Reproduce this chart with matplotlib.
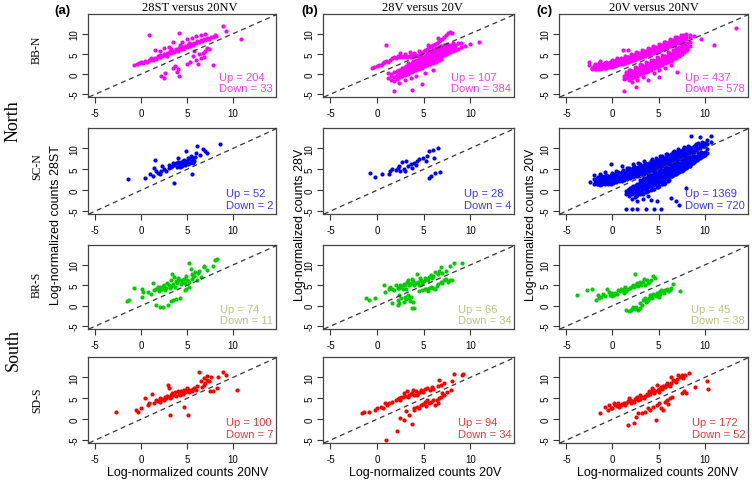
import matplotlib
matplotlib.use("Agg")
import matplotlib.pyplot as plt

# ---------------- data ----------------
col_titles = ["28ST versus 20NV", "28V versus 20V", "20V versus 20NV"]
col_tags = ["(a)", "(b)", "(c)"]
col_ylabels = ["Log-normalized counts 28ST", "Log-normalized counts 28V", "Log-normalized counts 20V"]
col_xlabels = ["Log-normalized counts 20NV", "Log-normalized counts 20V", "Log-normalized counts 20NV"]
row_names = ["BB-N", "SC-N", "BR-S", "SD-S"]
region_names = ["North", "South"]
tick_values = [-5, 0, 5, 10]

up_counts = [[204, 107, 437], [52, 28, 1369], [74, 66, 45], [100, 94, 172]]
down_counts = [[33, 384, 578], [2, 4, 720], [11, 34, 38], [7, 34, 52]]

# Each panel: list of (x, y) or (x, [y, y, ...]) columns
bbn_28st = [(-0.8, 2.3), (-0.5, 2.6), (-0.2, 2.8), (0, 3.1), (0.2, 2.7), (0.4, 3.3), (0.6, 3.0), (0.8, 3.6),
            (1.0, 3.4), (1.1, 3.9), (1.3, 3.6), (1.5, 4.1), (1.6, 3.8), (1.8, 4.4), (2.0, 4.2), (2.1, 4.8),
            (2.3, 4.5), (2.5, 5.0), (2.6, 4.7), (2.8, 5.3), (3.0, 5.1), (3.1, 5.6), (3.3, 5.3), (3.5, 5.8),
            (3.6, 5.5), (3.8, 6.1), (4.0, 5.8), (4.1, 6.4), (4.3, 6.1), (4.5, 6.6), (4.6, 6.3), (4.8, 6.9),
            (5.0, 6.7), (5.1, 7.2), (5.3, 6.9), (5.5, 7.5), (5.6, 7.2), (5.8, 7.8), (6.0, 7.6), (6.1, 8.1),
            (6.3, 7.9), (6.5, 8.4), (6.6, 8.1), (6.8, 8.7), (7.0, 8.5), (7.2, 9.0), (7.4, 8.8), (7.6, 9.3),
            (7.8, 9.1), (8.0, 9.6), (8.2, 9.4), (0.9, 9.8), (1.5, 6.0), (2.0, 5.6), (2.5, 6.4), (3.0, 6.7),
            (3.5, 7.9), (4.1, 10.2), (4.5, 8.0), (5.0, 8.6), (5.5, 9.0), (6.0, 9.4), (6.5, 9.8), (7.0, 10.0),
            (8.9, 11.9), (9.2, 10.8), (10.9, 8.8), (3.2, 6.2), (4.2, 7.2), (5.2, 7.8), (2.8, 4.6),
            (5.3, 3.0), (5.6, 4.4), (6.0, 3.5), (6.3, 5.0), (6.7, 5.3), (7.0, 5.8), (7.4, 6.2), (6.2, 2.4),
            (5.0, 2.5), (7.8, 2.3), (6.8, 4.2), (7.2, 6.5), (3.5, 1.5), (3.7, 2.1), (3.9, 0.6), (4.1, -0.6),
            (2.2, -0.6), (2.5, -0.9), (2.6, 0.3), (4.0, 1.2), (5.8, 5.6), (6.5, 3.9)]

bbn_28v = [(-0.5, 1.5), (-0.3, 1.8), (0, 1.9), (0.2, 2.3), (0.4, 2.2), (0.6, 2.7), (0.8, 2.9), (1.0, 3.2),
           (1.0, 7.2), (1.2, 3.1), (1.4, 3.6), (1.6, 3.9), (1.8, 4.3), (2.0, 4.0), (2.2, 4.5), (2.4, 4.2),
           (2.6, 4.6), (2.8, 4.3), (3.0, 4.5), (3.2, 4.2), (3.4, 4.6), (3.6, 4.3), (3.8, 4.7), (4.0, 4.4),
           (4.2, 4.8), (4.4, 4.5), (4.6, 5.0), (4.8, 5.3), (5.0, 5.6), (5.2, 5.9), (5.4, 6.2), (5.6, 6.6),
           (5.8, 6.9), (6.0, 7.1), (6.2, 7.5), (6.4, 7.8), (6.6, 8.2), (6.8, 8.5), (7.0, 8.8), (7.2, 9.2),
           (7.4, 9.6), (7.6, 10.1), (7.8, 10.5), (8.0, 10.2), (2.5, 5.2), (3.5, 5.4), (4.5, 5.8), (5.5, 7.2),
           (6.5, 9.0), (3.0, 5.0), (4.0, 5.3),
           (1.2, [-0.9, 0.3]), (1.5, [-1.5, 0.0, -0.5]), (1.8, [-0.7, 0.5, -4.1, -1.8]),
           (2.1, [-0.3, 0.8, -1.2]), (2.4, [0.0, 1.1, -0.8, -2.2]), (2.7, [0.3, 1.5, -0.6, 0.9]),
           (3.0, [0.6, 1.8, -0.2, 1.2, -1.5]), (3.3, [0.9, 2.1, 0.1, 1.5, 2.7]),
           (3.6, [1.2, 2.4, 0.4, 1.8, -1.0]), (3.8, [-4.0]), (3.9, [1.5, 2.8, 0.7, 2.1, 3.3]),
           (4.2, [1.8, 3.1, 1.0, 2.4, 3.6, -0.5]), (4.5, [2.1, 3.4, 1.3, 2.7, 4.0]),
           (4.8, [2.4, 3.7, 1.6, 3.0, 4.3, -2.5]), (5.1, [2.7, 4.0, 1.9, 3.3, 4.6, 0.2]),
           (5.4, [3.0, 4.3, 2.2, 3.6, 4.9, 5.3]), (5.7, [3.3, 4.6, 2.5, 3.9, 5.2, 5.8]),
           (6.0, [3.6, 4.9, 2.8, 4.2, 5.5, 6.2, 1.0]), (6.3, [3.9, 5.2, 3.1, 4.5, 5.8, 6.5]),
           (6.6, [4.2, 5.5, 3.4, 4.8, 6.1, 6.8]), (6.9, [4.5, 5.8, 3.7, 5.1, 6.4, 7.0]),
           (7.2, [4.8, 6.1, 5.4, 6.7, 7.2]), (7.5, [5.1, 6.4, 5.7, 7.0, 7.5]), (7.8, [5.4, 6.7, 6.0, 7.3]),
           (8.1, [5.7, 7.0, 6.3, 7.6]), (8.4, [6.0, 7.3, 6.6]), (8.7, [6.3, 7.6]), (9.0, [6.6, 7.8]),
           (9.4, [7.0]), (10.0, [7.5]), (10.9, [8.0]),
           (2.25, [-0.2, 0.5]), (2.55, [0.2, 0.9, -0.3]), (2.85, [0.5, 1.2]), (3.15, [0.8, 1.5, 2.0]),
           (3.45, [1.1, 1.8]), (3.75, [1.4, 2.1, 2.7]), (4.05, [1.7, 2.4]), (4.35, [2.0, 2.7, 3.3]),
           (4.65, [2.3, 3.0]), (4.95, [2.6, 3.3, 3.9]), (5.25, [2.9, 3.6]), (5.55, [3.2, 3.9, 4.5]),
           (5.85, [3.5, 4.2]), (6.15, [3.8, 4.5, 5.1]), (6.45, [4.1, 4.8]), (6.75, [4.4, 5.1, 5.7]),
           (7.05, [4.7, 5.4]), (7.35, [5.0, 5.7, 6.3]), (7.65, [5.3, 6.0]), (7.95, [5.6, 6.3])]

bbn_20v = [(-2.5, [2.2, 3.1]), (-2.2, [1.3, 1.6]), (-1.9, [1.2, 1.8, 2.4]), (-1.6, [1.2, 1.7, 2.3]),
           (-1.3, [1.3, 1.8, 2.4, 3.2]), (-1.0, [1.4, 1.9, 2.5]), (-0.7, [1.5, 2.0, 2.6, 3.1]),
           (-0.4, [1.7, 2.2, 2.8]), (-0.1, [1.8, 2.4, 3.0, 3.5]), (0.2, [2.0, 2.6, 3.2]),
           (0.5, [2.2, 2.8, 3.4, 4.0]), (0.8, [2.4, 3.0, 3.6]), (1.1, [2.6, 3.2, 3.8, 6.0]),
           (1.4, [2.8, 3.4, 4.0, 4.6]), (1.7, [3.0, 3.6, 4.2, 6.0]), (2.0, [3.2, 3.8, 4.4, 5.0]),
           (2.3, [3.5, 4.1, 4.7]), (2.6, [3.7, 4.3, 4.9, 5.5]), (2.9, [3.9, 4.5, 5.1]),
           (3.2, [4.2, 4.8, 5.4, 6.0]), (3.5, [4.4, 5.0, 5.6]), (3.8, [4.7, 5.3, 5.9, 6.5]),
           (4.1, [4.9, 5.5, 6.1]), (4.4, [5.2, 5.8, 6.4, 7.0]), (4.7, [5.4, 6.0, 6.6]),
           (5.0, [5.7, 6.3, 6.9, 7.5]), (5.3, [6.0, 6.6, 7.2]), (5.6, [6.3, 6.9, 7.5, 8.0]),
           (5.9, [6.6, 7.2, 7.8]), (6.2, [6.9, 7.5, 8.1, 8.6]), (6.5, [7.2, 7.8, 8.4]),
           (6.8, [7.5, 8.1, 8.7, 9.2]), (7.1, [7.8, 8.4, 9.0]), (7.4, [8.1, 8.7, 9.3, 9.8]),
           (7.7, [8.4, 9.0, 9.6]), (8.0, [8.7, 9.3, 10.0]), (8.4, [9.1, 9.7]), (8.8, [9.4]),
           (9.6, [8.8]), (11.0, [7.2]), (13.4, [11.4]),
           (-2.05, [1.4, 2.0]), (-1.75, [1.3, 1.9]), (-1.45, [1.4, 2.0, 2.7]), (-1.15, [1.5, 2.1]),
           (-0.85, [1.6, 2.2, 2.8]), (-0.55, [1.8, 2.4]), (-0.25, [1.9, 2.5, 3.1]), (0.05, [2.1, 2.7]),
           (0.35, [2.3, 2.9, 3.5]), (0.65, [2.5, 3.1]), (0.95, [2.7, 3.3, 3.9]), (1.25, [2.9, 3.5]),
           (1.55, [3.1, 3.7, 4.3]), (1.85, [3.3, 3.9]), (2.15, [3.6, 4.2, 4.8]), (2.45, [3.8, 4.4]),
           (2.75, [4.0, 4.6, 5.2]), (3.05, [4.3, 4.9]), (3.35, [4.5, 5.1, 5.7]), (3.65, [4.8, 5.4]),
           (3.95, [5.0, 5.6, 6.2]), (4.25, [5.3, 5.9]), (4.55, [5.5, 6.1, 6.7]), (4.85, [5.8, 6.4]),
           (5.15, [6.1, 6.7, 7.3]), (5.45, [6.4, 7.0]), (5.75, [6.7, 7.3, 7.9]), (6.05, [7.0, 7.6]),
           (6.35, [7.3, 7.9, 8.5]), (6.65, [7.6, 8.2]), (6.95, [7.9, 8.5, 9.1]), (7.25, [8.2, 8.8]),
           (7.55, [8.5, 9.1]), (7.85, [8.8, 9.4]),
           (1.2, [-1.3, -0.4]), (1.3, [-4.3]), (1.5, [-1.0, -0.1, 0.6]), (1.8, [-1.4, -0.6, 0.3, 1.0]),
           (2.1, [-1.0, -0.1, 0.7, -2.0]), (2.4, [-0.7, 0.2, 1.1, 1.7]), (2.5, [-3.2]),
           (2.7, [-0.4, 0.5, 1.4, -1.4]), (3.0, [-0.1, 0.8, 1.7, 2.4]), (3.3, [0.2, 1.1, 2.0, -0.8]),
           (3.6, [0.5, 1.4, 2.3, 3.0]), (3.9, [0.8, 1.7, 2.6, -1.5]), (4.2, [1.1, 2.0, 2.9, 3.6]),
           (4.5, [1.4, 2.3, 3.2, 0.3]), (4.8, [1.7, 2.6, 3.5, 4.2]), (5.0, [-0.7]),
           (5.1, [2.0, 2.9, 3.8, 1.0]), (5.4, [2.3, 3.2, 4.1, 4.8]), (5.7, [2.7, 3.5, 4.4, 1.6]),
           (6.0, [3.0, 3.9, 4.7, 5.4]), (6.3, [3.3, 4.2, 5.0, 2.2]), (6.6, [3.7, 4.5, 5.3, 6.0]),
           (6.9, [4.1, 4.9, 5.7, 6.4]), (7.0, [0.6]), (7.2, [4.5, 5.3, 6.1, 6.8]),
           (7.5, [5.0, 5.8, 6.6, 7.3]), (7.8, [5.5, 6.3, 7.1, 7.8]), (8.1, [6.0, 6.8, 7.6]),
           (8.4, [7.0, 8.0]),
           (1.65, [-0.8, 0.1]), (1.95, [-0.6, 0.2, 0.9]), (2.25, [-0.4, 0.5]), (2.55, [-0.1, 0.8, 1.5]),
           (2.85, [0.2, 1.1]), (3.15, [0.5, 1.4, 2.2]), (3.45, [0.8, 1.7]), (3.75, [1.1, 2.0, 2.8]),
           (4.05, [1.4, 2.3]), (4.35, [1.7, 2.6, 3.4]), (4.65, [2.0, 2.9]), (4.95, [2.3, 3.2, 4.0]),
           (5.25, [2.6, 3.5]), (5.55, [2.9, 3.8, 4.6]), (5.85, [3.3, 4.1]), (6.15, [3.6, 4.5, 5.2]),
           (6.45, [4.0, 4.8]), (6.75, [4.4, 5.2, 5.9]), (7.05, [4.8, 5.6]), (7.35, [5.2, 6.0, 6.7]),
           (7.65, [5.7, 6.5]), (7.95, [6.2, 7.0])]

scn_28st = [(-1.4, 2.6), (0.4, 3.0), (1.3, 3.4), (1.4, 5.2), (1.5, 7.3), (1.6, 4.6), (2.0, 3.8), (2.3, 5.8),
            (2.7, 4.6), (3.0, 5.2), (3.4, 5.8), (3.6, 1.8), (3.8, 6.6), (4.0, 7.6), (4.1, 6.2), (4.3, 6.8),
            (4.5, 5.8), (4.7, 7.3), (4.9, 9.4), (4.9, 6.8), (5.1, 6.2), (5.2, 7.4), (5.4, 8.2), (5.5, 3.8),
            (5.6, 6.6), (5.8, 7.0), (6.1, 10.6), (6.0, 9.0), (6.7, 9.8), (7.0, 9.4), (7.2, 9.0), (8.6, 11.0),
            (3.6, 6.0), (3.9, 5.5), (4.4, 6.5), (4.6, 7.0), (5.0, 7.0), (5.3, 6.5), (4.2, 5.6), (3.2, 5.6),
            (2.5, 5.0), (1.8, 4.2), (5.7, 7.6), (4.8, 6.0), (5.5, 7.0), (3.0, 6.0), (4.0, 6.8), (2.2, 4.6),
            (6.4, 8.5), (5.9, 8.0), (1.0, 3.8), (4.6, 6.2), (5.1, 7.8), (3.5, 6.4)]

scn_28v = [(-0.8, 4.2), (-0.2, 3.2), (0.5, 3.8), (1.3, 3.8), (1.4, 4.6), (1.6, 5.0), (2.2, 5.4), (2.4, 5.8),
           (2.5, 4.6), (2.7, 6.8), (2.9, 5.0), (3.1, 7.0), (3.3, 5.8), (3.6, 6.2), (3.8, 5.4), (4.0, 6.6),
           (4.3, 7.0), (4.5, 7.4), (4.9, 7.8), (5.3, 7.0), (5.4, 8.2), (5.6, 9.4), (6.0, 9.7), (6.5, 10.0),
           (6.1, 7.6), (3.0, 4.6), (4.2, 6.0), (2.0, 4.9),
           (5.6, 3.0), (5.8, 3.4), (6.2, 4.2), (6.8, 4.4)]

scn_20v = [(-2.4, [1.9]), (-2.0, [1.6, 2.6, 3.6]), (-1.7, [1.4, 2.2, 3.0]), (-1.4, [1.3, 2.0, 2.8, 3.8]),
           (-1.1, [1.4, 2.1, 2.9, 3.4]), (-0.8, [1.4, 2.0, 2.7, 3.3, 4.3]), (-0.5, [1.5, 2.1, 2.8, 3.4]),
           (-0.2, [1.6, 2.3, 3.0, 3.6, 6.2]), (0.1, [1.7, 2.4, 3.1, 3.8]), (0.4, [1.9, 2.6, 3.3, 4.0, 4.6]),
           (0.7, [2.1, 2.8, 3.5, 4.2]), (1.0, [2.3, 3.0, 3.7, 4.4, 5.8]), (1.3, [2.5, 3.2, 3.9, 4.6]),
           (1.6, [2.7, 3.4, 4.1, 4.8, 5.4]), (1.9, [2.9, 3.6, 4.3, 5.0]), (2.2, [3.1, 3.8, 4.5, 5.2, 6.3]),
           (2.5, [3.3, 4.0, 4.7, 5.4]), (2.8, [3.5, 4.2, 4.9, 5.6, 6.6]), (3.1, [3.8, 4.5, 5.2, 5.9]),
           (3.4, [4.0, 4.7, 5.4, 6.1, 7.0]), (3.7, [4.2, 4.9, 5.6, 6.3]), (4.0, [4.4, 5.1, 5.8, 6.5]),
           (4.3, [4.7, 5.4, 6.1, 6.8, 7.5]), (4.6, [4.9, 5.6, 6.3, 7.0]), (4.9, [5.2, 5.9, 6.6, 7.3]),
           (5.2, [5.4, 6.1, 6.8, 7.5, 8.2]), (5.5, [5.7, 6.4, 7.1, 7.8]), (5.8, [5.9, 6.6, 7.3, 8.0, 8.7]),
           (6.1, [6.2, 6.9, 7.6, 8.3]), (6.4, [6.5, 7.2, 7.9, 8.6]), (6.7, [6.8, 7.5, 8.2, 8.9, 9.5]),
           (7.0, [7.1, 7.8, 8.5, 9.2]), (7.3, [7.4, 8.1, 8.8, 9.5]), (7.6, [7.7, 8.4, 9.1, 9.8]),
           (7.9, [8.0, 8.7, 9.4, 10.1]), (8.2, [8.4, 9.1, 9.8, 10.5]), (8.5, [8.8, 9.5, 10.2, 13.0]),
           (8.8, [9.2, 9.9, 10.6]), (9.1, [9.6, 10.3, 11.0]), (9.5, [10.0, 10.8, 12.7]),
           (9.9, [10.5, 11.3]), (10.3, [11.0, 12.0]), (10.7, [11.5, 13.0]),
           (-1.85, [1.7, 2.5]), (-1.55, [1.5, 2.3, 3.1]), (-1.25, [1.6, 2.4, 3.2]), (-0.95, [1.7, 2.4, 3.1]),
           (-0.65, [1.7, 2.4, 3.0, 3.7]), (-0.35, [1.8, 2.5, 3.2]), (-0.05, [2.0, 2.7, 3.4, 4.1]),
           (0.25, [2.2, 2.9, 3.6]), (0.55, [2.4, 3.1, 3.8, 4.4]), (0.85, [2.6, 3.3, 4.0]),
           (1.15, [2.8, 3.5, 4.2, 4.9]), (1.45, [3.0, 3.7, 4.4]), (1.75, [3.2, 3.9, 4.6, 5.3]),
           (2.05, [3.4, 4.1, 4.8]), (2.35, [3.6, 4.3, 5.0, 5.7]), (2.65, [3.8, 4.5, 5.2]),
           (2.95, [4.1, 4.8, 5.5, 6.2]), (3.25, [4.3, 5.0, 5.7]), (3.55, [4.5, 5.2, 5.9, 6.6]),
           (3.85, [4.7, 5.4, 6.1]), (4.15, [5.0, 5.7, 6.4, 7.1]), (4.45, [5.2, 5.9, 6.6]),
           (4.75, [5.5, 6.2, 6.9, 7.6]), (5.05, [5.7, 6.4, 7.1]), (5.35, [6.0, 6.7, 7.4, 8.1]),
           (5.65, [6.2, 6.9, 7.6]), (5.95, [6.5, 7.2, 7.9, 8.6]), (6.25, [6.8, 7.5, 8.2]),
           (6.55, [7.1, 7.8, 8.5, 9.2]), (6.85, [7.4, 8.1, 8.8]), (7.15, [7.7, 8.4, 9.1, 9.8]),
           (7.45, [8.0, 8.7, 9.4]), (7.75, [8.3, 9.0, 9.7, 10.4]), (8.05, [8.7, 9.4, 10.1]),
           (8.35, [9.0, 9.7, 10.4]), (8.65, [9.4, 10.1]), (8.95, [9.8, 10.5]), (9.3, [10.2, 11.2]),
           (9.7, [10.7, 11.6]), (10.1, [11.2]),
           (1.5, [-0.2, -1.0, -4.5]), (1.8, [-0.5, 0.3, -1.5]), (2.1, [-0.8, 0.1, 0.8, -2.0, -4.5]),
           (2.4, [-0.6, 0.3, 1.1, -1.6]), (2.7, [-0.4, 0.5, 1.4, -1.2, -4.5, -2.6]),
           (3.0, [-0.1, 0.8, 1.7, -1.0, 2.4]), (3.3, [0.2, 1.1, 2.0, -0.8, 2.7, -2.0]),
           (3.6, [0.5, 1.4, 2.3, -0.5, 3.0, -4.5]), (3.9, [0.8, 1.7, 2.6, -0.2, 3.3, -1.5]),
           (4.2, [1.1, 2.0, 2.9, 0.1, 3.6, -2.3]), (4.5, [1.4, 2.3, 3.2, 0.4, 3.9, -4.5]),
           (4.8, [1.7, 2.6, 3.5, 0.7, 4.2, -2.7]), (5.1, [2.0, 2.9, 3.8, 1.0, 4.5]), (5.3, [-4.5]),
           (5.4, [2.3, 3.2, 4.1, 1.4, 4.8]), (5.7, [2.7, 3.5, 4.4, 1.8, 5.1]),
           (6.0, [3.0, 3.9, 4.7, 2.2, 5.4]), (6.3, [3.3, 4.2, 5.0, 5.7, -1.9]), (6.6, [3.6, 4.5, 5.3, 6.0]),
           (6.9, [3.9, 4.8, 5.6, 6.3, -2.7]), (7.2, [4.3, 5.1, 5.9, 6.6, -3.5]), (7.5, [4.7, 5.5, 6.2, 6.9]),
           (7.8, [5.1, 5.9, 6.6, 7.2]), (8.0, [0.6]), (8.1, [5.5, 6.3, 7.0, 7.6]),
           (8.4, [5.9, 6.7, 7.4, 7.9]), (8.7, [6.4, 7.2, 7.8, 8.3]), (9.0, [6.9, 7.7, 8.3]),
           (9.3, [7.4, 8.2, 8.8]), (9.6, [8.0, 8.7, 9.2]), (10.0, [8.5, 9.2]), (10.3, [9.0, 9.8]),
           (1.65, [-0.6, 0.1]), (1.95, [-0.9, -0.1, 0.6]), (2.25, [-0.7, 0.2, 1.0]),
           (2.55, [-0.5, 0.4, 1.2, -1.4]), (2.85, [-0.2, 0.7, 1.6]), (3.15, [0.1, 1.0, 1.9, -0.6]),
           (3.45, [0.4, 1.3, 2.2, 2.9]), (3.75, [0.7, 1.6, 2.5, -0.3]), (4.05, [1.0, 1.9, 2.8, 3.5]),
           (4.35, [1.3, 2.2, 3.1, 0.3]), (4.65, [1.6, 2.5, 3.4, 4.1]), (4.95, [1.9, 2.8, 3.7, 0.8]),
           (5.25, [2.2, 3.1, 4.0, 4.7]), (5.55, [2.5, 3.4, 4.3, 1.6]), (5.85, [2.9, 3.7, 4.6, 5.3]),
           (6.15, [3.2, 4.1, 4.9, 2.4]), (6.45, [3.5, 4.4, 5.2, 5.9]), (6.75, [3.8, 4.7, 5.5]),
           (7.05, [4.1, 5.0, 5.8, 6.5]), (7.35, [4.5, 5.3, 6.1]), (7.65, [4.9, 5.7, 6.4, 7.0]),
           (7.95, [5.3, 6.1, 6.8]), (8.25, [5.7, 6.5, 7.2, 7.8]), (8.55, [6.2, 7.0, 7.6]),
           (8.85, [6.7, 7.5, 8.1]), (9.15, [7.2, 8.0]), (9.45, [7.7, 8.5]), (9.8, [8.3, 9.0])]

brs_28st = [(-1.5, 1.2), (-1.3, 1.5), (-0.8, 4.4), (0.1, 4.2), (0.1, 2.2), (0.2, 3.4), (0.7, 3.4), (1.1, 3.0),
            (1.3, 5.5), (1.4, 3.8), (1.8, 4.6), (2.0, 4.2), (2.1, 4.6), (2.3, 4.2), (2.5, 5.0), (2.7, 4.3),
            (3.0, 5.1), (3.2, 6.2), (3.4, 7.8), (3.6, 7.0), (3.7, 4.6), (4.1, 6.2), (4.3, 5.4), (4.5, 5.9),
            (4.7, 6.6), (5.2, 10.4), (5.2, 5.8), (5.4, 9.0), (5.5, 6.6), (5.7, 7.2), (5.9, 8.2), (6.1, 6.2),
            (6.3, 8.6), (6.8, 9.4), (6.9, 9.8), (7.8, 9.8), (8.1, 11.2), (8.3, 11.5), (2.8, 5.6), (3.3, 4.8),
            (3.9, 5.6), (4.0, 6.8), (4.8, 5.5), (5.0, 6.2), (1.6, 4.0), (2.6, 3.8), (3.5, 5.3), (4.4, 6.4),
            (5.8, 7.4), (6.5, 7.0), (1.9, 3.6), (4.9, 7.2), (3.1, 4.4), (5.5, 7.8), (6.2, 8.0), (7.2, 8.8),
            (2.4, 4.8), (3.8, 6.0),
            (1.6, 0.2), (2.4, -0.2), (2.9, 0.2), (3.2, 1.2), (3.5, 1.4), (4.2, 1.8), (2.1, -0.3), (3.8, 1.6),
            (4.8, 3.8), (4.9, 4.2), (5.2, 4.6)]

brs_28v = [(-1.2, 1.8), (-0.9, 1.5), (-0.2, 2.0), (0.8, 5.0), (0.9, 3.4), (1.3, 4.2), (1.4, 4.6), (1.8, 3.9),
           (2.0, 5.0), (2.4, 4.3), (2.5, 5.0), (2.9, 5.4), (3.1, 4.2), (3.3, 6.2), (3.4, 5.0), (3.6, 5.6),
           (3.8, 6.6), (4.0, 5.0), (4.3, 7.8), (4.4, 5.8), (4.7, 6.2), (5.3, 6.6), (5.6, 7.0), (5.8, 7.5),
           (6.2, 8.2), (6.9, 9.4), (7.4, 8.6), (8.3, 10.4), (9.1, 10.6), (2.7, 4.6), (3.0, 5.0), (3.5, 5.3),
           (3.9, 6.0), (4.2, 5.5), (4.6, 6.8), (5.0, 6.0), (5.1, 6.9), (5.5, 6.2), (6.0, 7.2), (6.5, 7.8),
           (2.2, 4.4), (1.6, 4.0), (3.2, 5.8), (4.8, 5.6), (5.9, 6.8), (6.6, 8.6), (7.0, 8.0), (7.8, 9.7),
           (2.8, 4.0), (4.5, 5.2),
           (2.2, 1.4), (2.4, 0.6), (2.9, 1.0), (3.3, 2.6), (3.4, 1.8), (3.9, 1.0), (4.0, -0.5), (3.6, 2.2),
           (2.4, 2.6), (3.1, 1.6), (5.1, 4.2), (5.3, 4.0), (5.6, 4.3), (6.0, 4.3), (6.2, 4.2), (6.9, 5.8),
           (7.2, 6.2), (7.6, 5.8), (7.8, 6.2), (8.0, 6.2), (2.2, 0.2), (3.8, -0.6), (1.6, 0.6), (2.6, 1.9),
           (3.5, 1.2), (4.8, 3.9), (5.8, 4.6), (6.5, 5.3), (7.0, 5.5), (5.5, 3.6), (6.4, 4.8), (4.5, 3.5),
           (7.4, 6.6), (3.0, 2.2)]

brs_20v = [(-3.8, 2.6), (-2.8, 3.9), (-2.2, 4.0), (-1.8, 1.4), (-1.5, 1.9), (-1.2, 2.2), (-0.8, 2.4),
           (-0.6, 4.0), (-0.3, 2.7), (-0.1, 3.2), (0.2, 2.6), (0.5, 3.0), (0.8, 3.5), (0.9, 4.2), (1.2, 4.2),
           (1.5, 3.5), (1.7, 4.2), (1.9, 4.3), (2.3, 4.7), (2.4, 7.8), (2.6, 5.0), (3.0, 5.9), (3.3, 5.8),
           (3.5, 5.0), (3.7, 6.2), (4.2, 6.2), (4.4, 7.2), (4.6, 6.8), (-1.0, 2.8), (0.0, 2.4), (1.0, 3.8),
           (2.0, 4.6), (2.8, 4.8), (1.4, 4.6), (3.1, 5.2), (-0.4, 3.3), (0.6, 3.9), (2.2, 5.2), (3.9, 5.6),
           (2.7, 5.5), (1.3, 3.2), (-1.6, 2.6), (0.3, 3.1), (3.4, 6.6), (4.0, 5.9),
           (1.5, -1.0), (1.8, -1.3), (2.1, -0.8), (2.6, -0.2), (2.8, -1.0), (3.0, 0.6), (3.3, 1.4), (3.5, 1.8),
           (3.7, 1.1), (4.0, 1.8), (4.2, 2.2), (4.4, 3.0), (4.6, 2.6), (4.8, 3.2), (5.0, 2.2), (5.1, 3.4),
           (5.3, 3.8), (5.5, 3.5), (5.7, 3.8), (5.9, 4.0), (6.2, 3.8), (6.6, 5.4), (7.3, 3.5), (3.0, -0.6),
           (2.2, -0.2), (3.9, 1.4), (4.3, 2.0), (3.6, 0.9), (4.9, 2.8), (5.6, 3.2), (6.0, 3.6), (2.4, -0.7),
           (3.2, 0.2), (4.1, 2.6), (4.7, 2.4), (5.2, 3.0), (6.4, 4.4), (2.0, -1.1)]

sds_28st = [(-2.7, 1.8), (-0.6, 2.1), (-0.3, 1.8), (0, 2.6), (0.4, 5.0), (0.7, 3.4), (1.2, 6.0), (1.4, 3.8),
            (1.6, 4.6), (2.0, 4.2), (2.3, 4.8), (2.7, 5.0), (2.9, 8.3), (3.0, 7.5), (3.2, 5.4), (3.6, 5.9),
            (4.0, 6.7), (4.1, 6.1), (4.4, 6.3), (4.9, 6.7), (5.0, 7.5), (5.4, 7.1), (5.8, 7.5), (6.1, 7.9),
            (6.3, 11.3), (6.5, 9.1), (6.8, 8.3), (7.2, 10.3), (7.4, 9.1), (8.4, 10.2), (8.9, 11.3), (9.3, 10.5),
            (2.5, 4.6), (2.8, 5.6), (3.1, 5.0), (3.4, 6.2), (3.8, 5.5), (4.2, 5.8), (4.6, 6.0), (4.7, 7.0),
            (5.2, 6.5), (5.5, 6.8), (5.6, 7.2), (6.0, 7.0), (6.6, 7.6), (7.0, 8.6), (7.2, 9.5), (1.8, 4.4),
            (2.1, 5.0), (3.7, 6.4), (4.3, 6.8), (3.3, 5.7), (4.8, 6.4), (5.1, 7.0), (6.9, 9.8), (7.6, 10.0),
            (0.9, 3.8), (2.6, 5.3),
            (3.1, 1.0), (4.7, 2.9), (5.1, 1.0), (10.4, 7.1), (7.5, 6.7), (7.8, 6.7), (8.3, 7.5)]

sds_28v = [(-1.6, 1.5), (-1.4, 1.8), (-0.9, 1.8), (-0.2, 2.3), (0.0, 2.6), (0.4, 3.0), (0.9, 3.8), (1.1, 3.4),
           (1.6, 4.2), (2.0, 4.6), (2.4, 5.0), (2.6, 5.4), (2.9, 6.2), (3.2, 6.7), (3.4, 5.8), (3.8, 6.2),
           (4.2, 6.7), (4.7, 7.0), (5.4, 7.5), (6.0, 7.2), (6.7, 9.3), (6.9, 8.3), (7.2, 8.6), (8.0, 9.1),
           (8.3, 10.8), (9.1, 10.6), (9.2, 10.9), (2.2, 4.8), (2.8, 5.2), (3.0, 5.6), (3.6, 6.0), (4.0, 5.8),
           (4.4, 6.3), (4.9, 6.6), (5.1, 7.2), (5.7, 7.0), (3.3, 5.3), (4.6, 6.5), (1.3, 3.9), (2.5, 4.5),
           (6.5, 8.0), (5.9, 7.8), (0.6, 2.8), (3.9, 7.0), (4.3, 5.9),
           (1.0, -5.0), (2.1, -2.8), (2.5, 0.2), (2.9, -0.2), (3.4, 1.0), (3.7, -1.1), (4.0, 2.6), (4.3, 3.0),
           (4.7, 3.4), (5.1, 4.2), (5.4, 4.6), (5.8, 4.2), (6.2, 3.4), (6.5, 3.8), (6.9, 5.4), (7.2, 5.8),
           (7.9, 6.9), (4.0, 2.2), (4.5, 2.8), (5.6, 3.8), (6.0, 4.6), (6.7, 5.0), (7.0, 6.2), (4.9, 3.6),
           (5.3, 3.2), (3.1, 2.0), (6.4, 4.6), (7.5, 6.4)]

sds_20v = [(-1.4, 1.5), (-0.8, 2.9), (-0.5, 2.1), (-0.2, 2.6), (0.2, 3.9), (0.5, 3.2), (1.0, 3.7), (1.5, 4.0),
           (1.9, 4.6), (2.3, 4.2), (2.6, 5.0), (3.0, 4.8), (3.3, 5.4), (3.7, 6.1), (4.0, 6.7), (4.4, 7.0),
           (4.8, 8.3), (5.1, 7.2), (5.5, 8.0), (5.9, 8.7), (6.4, 10.1), (6.8, 9.1), (7.1, 10.5), (7.5, 10.7),
           (7.7, 9.9), (8.3, 11.1), (0, 2.8), (0.3, 3.4), (0.7, 3.0), (1.2, 3.9), (1.7, 4.3), (2.0, 4.0),
           (2.4, 4.8), (2.8, 4.5), (3.1, 5.2), (3.5, 5.6), (3.8, 5.9), (4.2, 6.4), (4.6, 6.8), (4.9, 7.0),
           (5.3, 7.6), (5.7, 7.8), (6.0, 8.3), (6.3, 8.6), (6.6, 9.3), (7.0, 9.6), (7.3, 10.0), (0.9, 3.3),
           (1.4, 3.5), (2.1, 4.4), (2.7, 5.3), (3.4, 5.0), (4.1, 6.0), (4.5, 6.2), (5.0, 6.6), (5.4, 7.2),
           (5.8, 8.2), (6.2, 8.0), (6.9, 9.0), (7.9, 10.6), (4.3, 7.4), (3.0, 5.9), (1.8, 5.0), (0.6, 4.0),
           (-0.4, 3.5),
           (1.7, -1.4), (2.3, -0.8), (2.6, 0.6), (2.8, 1.4), (3.2, 1.4), (3.5, 1.8), (3.9, 2.6), (4.1, 2.1),
           (4.7, -0.3), (4.8, 3.4), (5.1, 3.8), (5.3, 2.6), (5.5, 2.1), (5.9, 4.6), (6.2, 5.0), (6.5, 5.4),
           (7.5, 6.2), (7.8, 6.7), (8.0, 6.2), (8.9, 7.8), (10.2, 9.1), (10.4, 7.3), (4.4, 3.0), (5.7, 4.2),
           (6.0, 3.6)]

panels = [[bbn_28st, bbn_28v, bbn_20v],
          [scn_28st, scn_28v, scn_20v],
          [brs_28st, brs_28v, brs_20v],
          [sds_28st, sds_28v, sds_20v]]

point_colors = ["#FF00FF", "#0000FF", "#00CD00", "#FF0000"]
text_colors = ["#E845E8", "#3B3BE0", "#BCC47C", "#E63A3A"]

# ---------------- layout ----------------
W, H = 752, 481
SANS = "Liberation Sans"
SERIF = "Liberation Serif"
fig = plt.figure(figsize=(W / 100, H / 100), dpi=100)

col_left = [88, 323, 559]
col_w = [188, 191, 189]
row_top = [15, 129, 246, 358]
row_bot = [98, 215, 330, 444]
XLIM = (-5.8, 14.7)
YLIM = (-5.7, 14.9)


def flatten(cols):
    xs, ys = [], []
    for x, y in cols:
        if isinstance(y, (list, tuple)):
            for v in y:
                xs.append(x)
                ys.append(v)
        else:
            xs.append(x)
            ys.append(y)
    return xs, ys


for r in range(4):
    for c in range(3):
        ax = fig.add_axes([col_left[c] / W, 1 - row_bot[r] / H, col_w[c] / W,
                           (row_bot[r] - row_top[r]) / H])
        xs, ys = flatten(panels[r][c])
        ax.scatter(xs, ys, s=9, c=point_colors[r], linewidths=0, zorder=2)
        ax.axline((0, 0), slope=1, color="#333333", lw=0.9, ls=(0, (4, 3)), zorder=3)
        ax.set_xlim(XLIM)
        ax.set_ylim(YLIM)
        ax.set_xticks(tick_values)
        ax.set_yticks(tick_values)
        ax.set_xticklabels([str(t) for t in tick_values], fontsize=7, family=SANS)
        ax.set_yticklabels([str(t) for t in tick_values], fontsize=7, family=SANS,
                           rotation=90, va="center")
        ax.tick_params(axis="x", direction="out", length=4, width=0.8, color="#333333", pad=4)
        ax.tick_params(axis="y", direction="out", length=4, width=0.8, color="#333333", pad=2)
        for sp in ax.spines.values():
            sp.set_color("#444444")
            sp.set_linewidth(0.9)
        ax.text(0.985, 0.175, f"Up = {up_counts[r][c]}\nDown = {down_counts[r][c]}",
                transform=ax.transAxes, ha="right", va="center", multialignment="left",
                color=text_colors[r], fontsize=8, family=SANS, linespacing=1.15)

# column titles and tags
title_x = [190, 422, 654]
tag_x = [62, 310, 544]
for c in range(3):
    fig.text(title_x[c] / W, 1 - 8 / H, col_titles[c], ha="center", va="center",
             fontsize=9, family=SERIF)
    fig.text(tag_x[c] / W, 1 - 11 / H, col_tags[c], ha="center", va="center",
             fontsize=9.5, family=SANS, weight="bold")

# column y labels
ylab_x = [56, 300, 531]
for c in range(3):
    fig.text(ylab_x[c] / W, 1 - 225 / H, col_ylabels[c], rotation=90, ha="center",
             va="center", fontsize=9, family=SANS)

# x labels under bottom row
xlab_x = [188, 425, 658]
for c in range(3):
    fig.text(xlab_x[c] / W, 1 - 473 / H, col_xlabels[c], ha="center", va="center",
             fontsize=9, family=SANS)

# row labels
row_label_y = [50, 167, 285, 400]
for r in range(4):
    fig.text(37 / W, 1 - row_label_y[r] / H, row_names[r], rotation=90, ha="center",
             va="center", fontsize=8.5, family=SERIF)

# region labels
region_y = [121, 350]
for i in range(2):
    fig.text(13 / W, 1 - region_y[i] / H, region_names[i], rotation=90, ha="center",
             va="center", fontsize=13, family=SERIF)

fig.savefig("out.png", dpi=100)
